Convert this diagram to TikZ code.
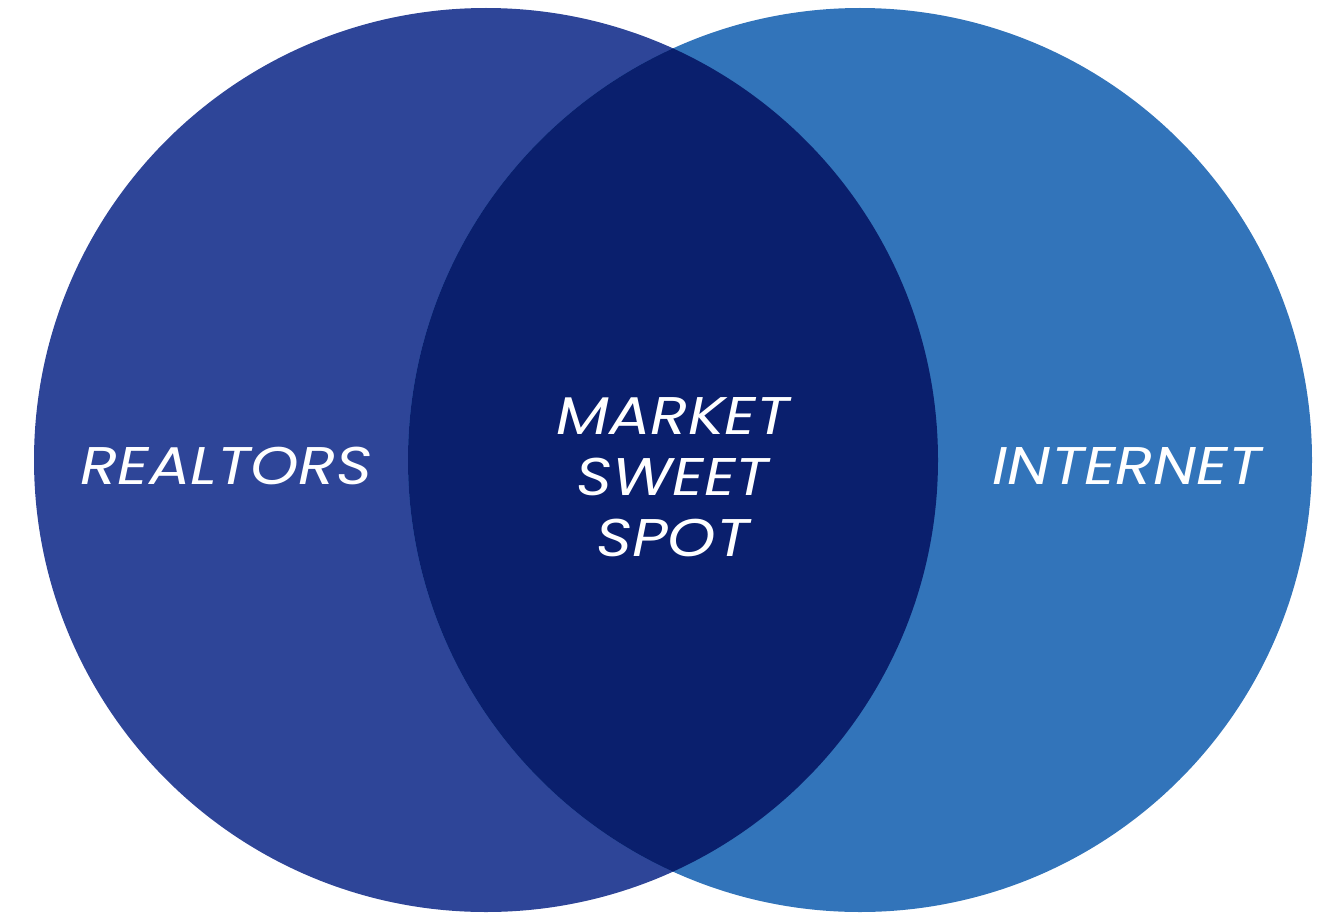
\documentclass[tikz,border=0pt]{standalone}
\usepackage{fontspec}
\setmainfont{Poppins}[FakeStretch=1.16]
\definecolor{leftblue}{HTML}{2E4598}
\definecolor{rightblue}{HTML}{3274BA}
\definecolor{midblue}{HTML}{0A1F6D}
\begin{document}
\begin{tikzpicture}[x=1pt,y=-1pt,
  lbl/.style={text=white,font=\fontsize{53}{61}\selectfont\itshape,anchor=base,inner sep=0pt}]
\useasboundingbox (0,0) rectangle (1324,915);
\coordinate (lc) at (486,460);
\coordinate (rc) at (860,460);
\fill[leftblue] (lc) circle[radius=452];
\fill[rightblue] (rc) circle[radius=452];
\begin{scope}
  \clip (lc) circle[radius=452];
  \fill[midblue] (rc) circle[radius=452];
\end{scope}
\node[lbl] (realtors) at (226,484) {REALTORS};
\node[lbl] (internet) at (1127,484) {INTERNET};
\node[lbl] (market) at (673,434) {MARKET};
\node[lbl] (sweet) at (673,495) {SWEET};
\node[lbl] (spot) at (673,556) {SPOT};
\end{tikzpicture}
\end{document}
